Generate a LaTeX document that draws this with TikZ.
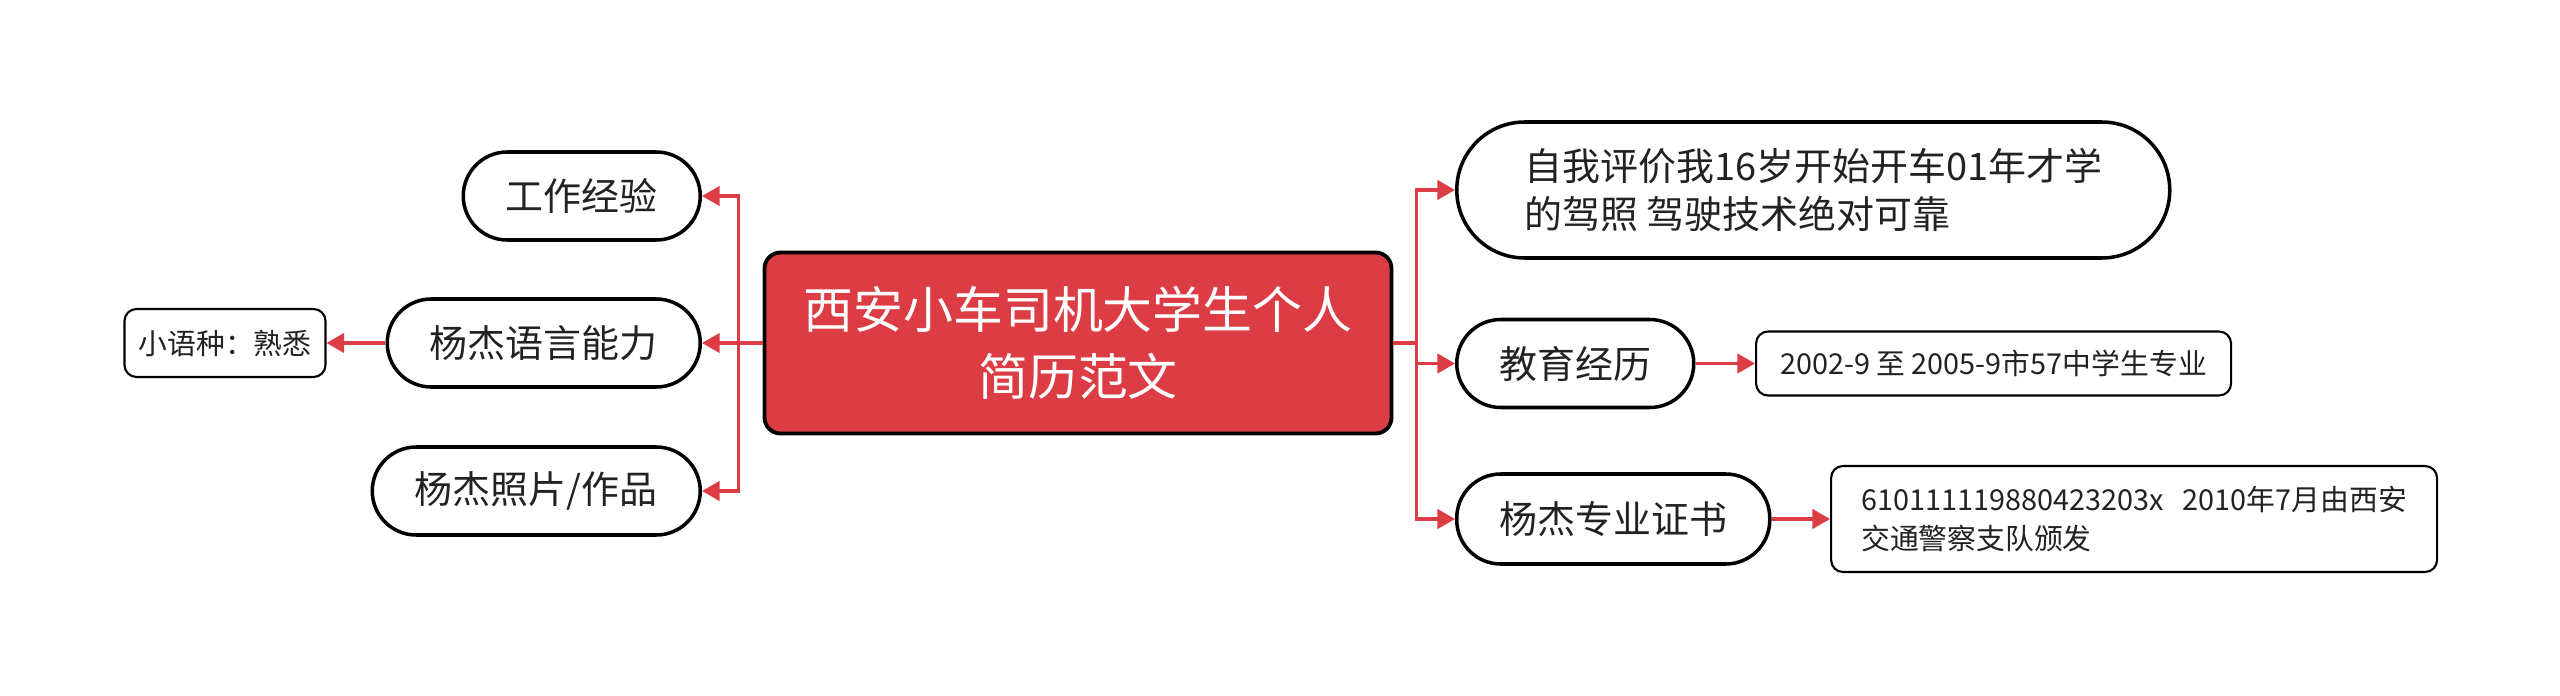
\documentclass[tikz,border=0pt]{standalone}
\usepackage{fontspec}
\setmainfont{Noto Sans CJK SC}
\usetikzlibrary{arrows.meta, positioning}
\definecolor{mapred}{RGB}{220, 60, 68}
\definecolor{mapink}{RGB}{34, 34, 34}

\begin{document}
\begin{tikzpicture}[
    root/.style={draw=black, line width=1.1pt, fill=mapred, text=white, rounded corners=0.16cm,
      minimum width=6.27cm, minimum height=1.81cm, align=center, font=\fontsize{14.2}{19}\selectfont},
    pill/.style={draw=black, line width=1pt, fill=white, text=mapink, rounded corners=0.44cm,
      minimum height=0.88cm, align=left, font=\fontsize{10.8}{13.4}\selectfont},
    leaf/.style={draw=black, line width=0.6pt, fill=white, text=mapink, rounded corners=0.12cm,
      minimum height=0.64cm, align=left, font=\fontsize{8.2}{11.1}\selectfont},
    lnk/.style={line width=0.9pt, mapred},
    arr/.style={lnk, -{Triangle[length=5pt, width=5.5pt]}}
  ]
  \useasboundingbox (0,0) rectangle (25.6,6.95);

  % Root
  \node[root] (root) at (10.78, 3.52) {西安小车司机大学生个人\\简历范文};

  % Left side
  \node[pill, minimum width=2.37cm, anchor=east] (work) at (7.02, 4.99) {工作经验};
  \node[pill, minimum width=3.13cm, anchor=east] (lang) at (7.02, 3.52) {杨杰语言能力};
  \node[pill, minimum width=3.28cm, anchor=east] (photo) at (7.02, 2.04) {杨杰照片/作品};
  \node[leaf, minimum width=2.01cm, minimum height=0.68cm] (minor) at (2.25, 3.52) {小语种：熟悉};

  % Right side
  \node[pill, minimum width=7.13cm, minimum height=1.36cm, rounded corners=0.68cm, anchor=west]
    (eval) at (14.55, 5.05) {自我评价我16岁开始开车01年才学\\的驾照 驾驶技术绝对可靠};
  \node[pill, minimum width=2.37cm, anchor=west] (edu) at (14.55, 3.315) {教育经历};
  \node[pill, minimum width=3.13cm, minimum height=0.9cm, anchor=west] (cert) at (14.55, 1.76) {杨杰专业证书};
  \node[leaf, minimum width=4.75cm, anchor=west] (eduinfo) at (17.55, 3.315) {2002-9 至 2005-9市57中学生专业};
  \node[leaf, minimum width=6.06cm, minimum height=1.06cm, anchor=west]
    (certinfo) at (18.30, 1.76) {610111119880423203x\ \ \ 2010年7月由西安\\交通警察支队颁发};

  % Connectors
  \draw[lnk] (root.west) -- ++(-0.24,0) coordinate (lhub);
  \foreach \n in {work, lang, photo}
    \draw[arr] (lhub) |- (\n.east);
  \draw[lnk] (root.east) -- ++(0.23,0) coordinate (rhub);
  \foreach \n in {eval, edu, cert}
    \draw[arr] (rhub) |- (\n.west);
  \draw[arr] (lang) -- (minor);
  \draw[arr] (edu) -- (eduinfo);
  \draw[arr] (cert) -- (certinfo);
\end{tikzpicture}
\end{document}
